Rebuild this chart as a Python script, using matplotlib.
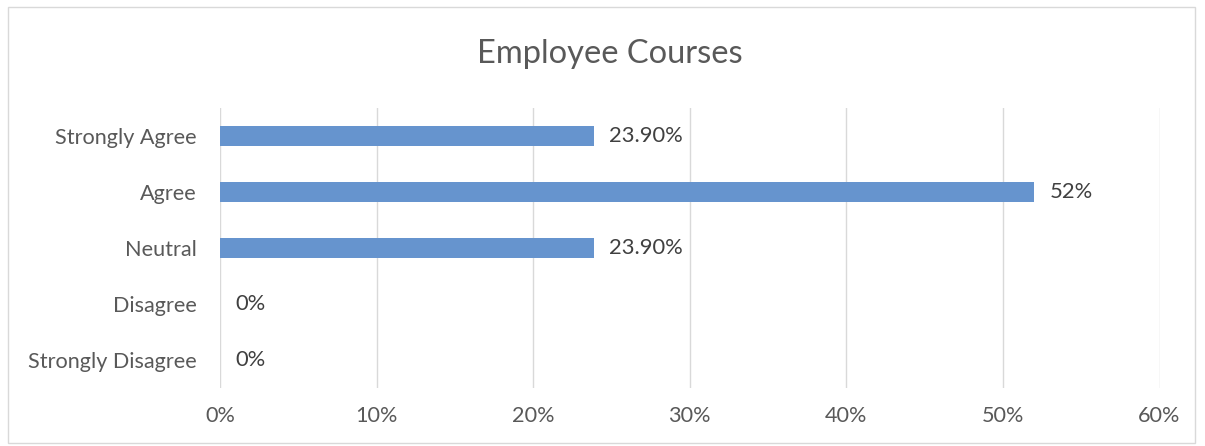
import matplotlib.pyplot as plt
from matplotlib.patches import Rectangle
from matplotlib.ticker import FuncFormatter

categories = ["Strongly Agree", "Agree", "Neutral", "Disagree", "Strongly Disagree"]
values = [23.90, 52, 23.90, 0, 0]
value_labels = ["23.90%", "52%", "23.90%", "0%", "0%"]
x_ticks = [0, 10, 20, 30, 40, 50, 60]

plt.rcParams['font.family'] = ['Lato', 'DejaVu Sans']

W, H = 1205, 446
PX = 0.72  # points per pixel at 100 dpi
fig = plt.figure(figsize=(W / 100, H / 100), dpi=100)
fig.patch.set_facecolor('white')

# light frame around the whole chart
fig.add_artist(Rectangle((8 / W, 1 - 443 / H), (1195 - 8) / W, (443 - 7) / H,
                         transform=fig.transFigure, fill=False,
                         edgecolor='#d9d9d9', linewidth=1.0))

ax = fig.add_axes([220 / W, 1 - 388 / H, (1159.5 - 220) / W, (388 - 108) / H])

ypos = list(range(len(categories)))
ax.barh(ypos, values, height=0.34, color='#6694CE', zorder=3)

for y, v, lab in zip(ypos, values, value_labels):
    ax.annotate(lab, xy=(v, y), xytext=(15 * PX, 0), textcoords='offset points',
                ha='left', va='center', fontsize=15.8, color='#404040')

ax.set_xlim(0, 60)
ax.set_ylim(len(categories) - 0.5, -0.5)
ax.set_xticks(x_ticks)
ax.xaxis.set_major_formatter(FuncFormatter(lambda v, p: f"{v:.0f}%"))
ax.set_yticks(ypos)
ax.set_yticklabels(categories)

ax.grid(axis='x', color='#d9d9d9', linewidth=1.0, zorder=0)
for s in ax.spines.values():
    s.set_visible(False)
ax.tick_params(axis='both', length=0, labelsize=15.6, labelcolor='#595959')
ax.tick_params(axis='y', pad=23 * PX)
ax.tick_params(axis='x', pad=18 * PX)

fig.text(610 / W, 1 - 63 / H, "Employee Courses",
         ha='center', va='baseline', fontsize=23.5, color='#595959')

fig.savefig('out.png', dpi=100)
